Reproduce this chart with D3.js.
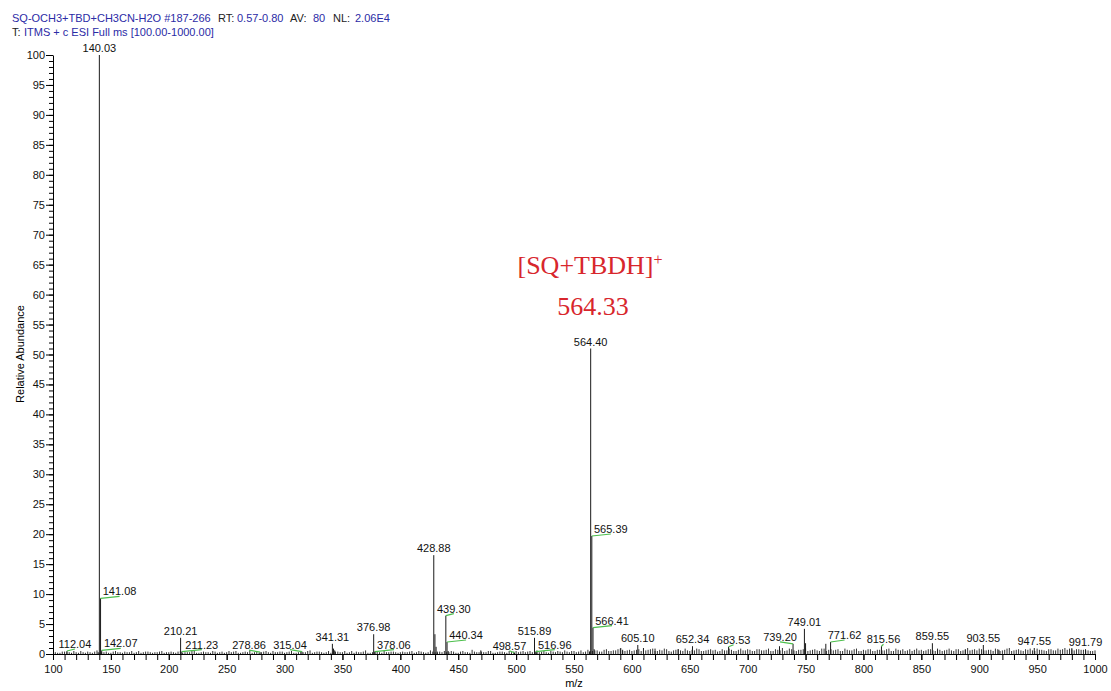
<!DOCTYPE html>
<html>
<head>
<meta charset="utf-8">
<script src="https://cdn.jsdelivr.net/npm/d3@7"></script>
<style>
  body { margin: 0; background: #fff; }
  text { font-family: Arial, "Liberation Sans", sans-serif; }
</style>
</head>
<body>
<div id="spectrum"></div>
<script>
// Labelled and secondary peaks: m/z and relative abundance (%)
const peakMz = [112.04, 139.0, 140.03, 141.08, 142.07, 210.21, 211.23, 278.86, 315.04, 341.31, 342.3, 343.3,
  376.98, 378.06, 428.88, 429.88, 430.88, 431.9, 439.30, 440.34, 441.3, 469.5, 498.57, 515.89, 516.96, 517.9,
  563.4, 564.40, 565.39, 566.41, 567.4, 590.4, 592.0, 605.10, 610.0, 620.0, 640.0, 652.34, 683.53, 727.5,
  739.20, 749.01, 750.0, 767.5, 771.62, 815.56, 859.55, 864.0, 888.0, 903.55, 917.0, 947.55, 980.0, 991.79];
const peakAb = [0.5, 0.3, 100, 9.3, 0.6, 2.7, 0.4, 0.3, 0.4, 1.7, 0.9, 0.6,
  3.3, 0.4, 16.5, 3.3, 1.2, 0.4, 6.4, 2.0, 0.5, 0.6, 0.2, 2.7, 0.4, 0.3,
  0.4, 51, 19.7, 4.4, 0.8, 1.0, 0.7, 1.5, 1.0, 0.9, 0.8, 1.3, 1.2, 1.3,
  1.7, 4.2, 1.8, 1.7, 2.0, 1.3, 1.8, 0.7, 0.8, 1.5, 0.7, 1.0, 0.8, 0.8];
const labelledMz = [112.04, 140.03, 141.08, 142.07, 210.21, 211.23, 278.86, 315.04, 341.31, 376.98, 378.06,
  428.88, 439.30, 440.34, 498.57, 515.89, 516.96, 564.40, 565.39, 566.41, 605.10, 652.34, 683.53,
  739.20, 749.01, 771.62, 815.56, 859.55, 903.55, 947.55, 991.79];

// Baseline noise, read every 4 m/z: set A starts at 102, set B at 104
const noiseStep = 4;
const noiseStartA = 102;
const noiseA = [
  0.3,0.2,0.4,0.3,0.5,0.2,0.3,0.4,0.2,0.6,0.3,0.4,0.2,0.5,0.3,0.4,0.3,0.2,0.5,0.3,0.4,0.2,0.3,0.5,0.3,
  0.4,0.2,0.5,0.3,0.3,0.6,0.2,0.4,0.3,0.5,0.2,0.4,0.3,0.3,0.5,0.2,0.4,0.6,0.3,0.2,0.4,0.3,0.5,0.3,0.4,
  0.3,0.5,0.2,0.4,0.3,0.6,0.3,0.4,0.2,0.5,0.3,0.4,0.3,0.2,0.5,0.4,0.3,0.6,0.2,0.4,0.3,0.5,0.3,0.4,0.2,
  0.4,0.3,0.5,0.3,0.4,0.2,0.6,0.3,0.4,0.5,0.3,0.4,0.2,0.5,0.3,0.7,0.3,0.4,0.3,0.5,0.2,0.4,0.3,0.5,0.4,
  0.3,0.5,0.4,0.3,0.6,0.4,0.3,0.5,0.3,0.4,0.6,0.3,0.5,0.4,0.3,0.7,0.5,0.6,0.4,0.8,0.5,0.6,0.9,0.5,0.7,
  0.6,0.8,0.5,0.7,0.9,0.5,0.6,0.8,0.4,0.7,0.6,0.9,0.5,0.6,0.8,0.5,0.7,0.6,0.4,0.8,0.6,0.7,0.5,0.9,0.6,
  0.7,0.5,0.8,0.6,0.9,0.5,0.7,1.0,0.6,0.8,0.5,0.7,0.9,0.6,0.8,0.5,0.9,0.7,0.6,0.8,0.5,0.7,0.6,0.9,0.5,
  0.6,0.8,0.5,0.7,0.6,0.9,0.5,0.7,0.8,0.6,0.5,0.9,0.7,0.6,0.8,0.5,0.7,0.6,0.9,0.5,0.8,0.6,1.0,0.7,0.6,
  0.8,0.6,0.7,0.9,0.5,0.7,1.0,0.6,0.8,0.5,0.7,0.6,0.9,0.7,0.5,0.8,0.6,0.7,1.0,0.9,0.6,0.8,0.7,0.6,0.5];
const noiseStartB = 104;
const noiseB = [
  0.2,0.4,0.3,0.2,0.3,0.5,0.2,0.3,0.4,0.2,0.3,0.2,0.4,0.3,0.2,0.3,0.5,0.3,0.2,0.4,0.3,0.3,0.4,0.2,0.3,
  0.3,0.4,0.2,0.3,0.5,0.2,0.3,0.3,0.2,0.4,0.3,0.2,0.5,0.4,0.2,0.3,0.3,0.2,0.4,0.3,0.5,0.2,0.3,0.4,0.2,
  0.4,0.2,0.3,0.3,0.5,0.2,0.4,0.3,0.3,0.2,0.4,0.3,0.5,0.3,0.2,0.3,0.4,0.2,0.3,0.5,0.2,0.3,0.4,0.3,0.3,
  0.3,0.4,0.2,0.5,0.3,0.3,0.4,0.2,0.3,0.3,0.5,0.2,0.4,0.3,0.2,0.4,0.3,0.3,0.5,0.2,0.3,0.4,0.2,0.3,0.5,
  0.4,0.3,0.5,0.4,0.3,0.5,0.2,0.4,0.5,0.3,0.4,0.5,0.3,0.6,0.4,0.5,0.6,0.4,0.7,0.5,0.6,0.8,0.5,0.6,0.5,
  0.7,0.5,0.6,0.8,0.5,0.7,0.9,0.5,0.6,0.8,0.5,0.6,0.7,0.9,0.5,0.6,0.8,0.7,0.5,0.6,0.9,0.5,0.7,0.6,0.8,
  0.5,0.8,0.6,0.7,0.5,0.8,0.6,0.5,0.9,0.6,0.7,0.8,0.5,0.7,0.6,0.9,0.5,0.8,0.7,0.5,0.9,0.6,0.8,0.5,0.7,
  0.8,0.5,0.7,0.6,0.8,0.5,0.9,0.6,0.5,0.8,0.7,0.6,0.5,0.8,0.6,0.9,0.5,0.7,0.6,0.8,0.5,0.7,0.6,0.8,0.9,
  0.6,0.7,0.5,0.8,0.6,0.9,0.5,0.7,0.6,0.8,0.9,0.5,0.7,0.6,0.8,0.6,0.9,0.8,0.7,1.0,0.8,0.7,0.6,0.5,0.6];

// Axis ticks
const xMajorTicks = [100, 150, 200, 250, 300, 350, 400, 450, 500, 550, 600, 650, 700, 750, 800, 850, 900, 950, 1000];
const yMajorTicks = [0, 5, 10, 15, 20, 25, 30, 35, 40, 45, 50, 55, 60, 65, 70, 75, 80, 85, 90, 95, 100];

// Label nudges (px) for labels pushed sideways; a green leader joins them to the peak
const labelShift = { 112.04: 8, 141.08: 19, 142.07: 19, 211.23: 20, 278.86: -11, 315.04: -12, 378.06: 19,
  439.30: 8, 440.34: 19, 498.57: -5, 516.96: 19, 565.39: 19, 566.41: 19, 683.53: 5, 739.20: -13,
  771.62: 14, 815.56: 2 };

const W = 1111, H = 691;
const svg = d3.select("#spectrum").append("svg")
  .attr("width", W)
  .attr("height", H);

const x = d3.scaleLinear().domain([100, 1000]).range([53, 1095]);
const y = d3.scaleLinear().domain([0, 100]).range([654, 55]);

// Header lines
const header = [
  { t: "SQ-OCH3+TBD+CH3CN-H2O #187-266", x: 12, y: 22, c: "#2b2ba6" },
  { t: "RT:", x: 218, y: 22, c: "#222" },
  { t: "0.57-0.80", x: 237, y: 22, c: "#2b2ba6" },
  { t: "AV:", x: 290, y: 22, c: "#222" },
  { t: "80", x: 313, y: 22, c: "#2b2ba6" },
  { t: "NL:", x: 333, y: 22, c: "#222" },
  { t: "2.06E4", x: 355, y: 22, c: "#2b2ba6" },
  { t: "T:", x: 12, y: 36, c: "#222" },
  { t: "ITMS + c ESI Full ms [100.00-1000.00]", x: 24, y: 36, c: "#2b2ba6" }
];
svg.selectAll(".hdr").data(header).enter().append("text")
  .attr("class", "hdr")
  .attr("x", d => d.x).attr("y", d => d.y)
  .attr("fill", d => d.c)
  .style("font-size", "11px")
  .text(d => d.t);

// Noise sticks
const noise = noiseA.map((v, i) => ({ mz: noiseStartA + i * noiseStep, ab: v }))
  .concat(noiseB.map((v, i) => ({ mz: noiseStartB + i * noiseStep, ab: v })))
  .filter(d => d.mz <= 1000);
svg.append("g").selectAll("line").data(noise).enter().append("line")
  .attr("x1", d => x(d.mz)).attr("x2", d => x(d.mz))
  .attr("y1", y(0)).attr("y2", d => y(d.ab))
  .attr("stroke", "#333").attr("stroke-width", 1);

// Peaks
const peaks = peakMz.map((m, i) => ({ mz: m, ab: peakAb[i] }));
svg.append("g").selectAll("line").data(peaks).enter().append("line")
  .attr("x1", d => x(d.mz)).attr("x2", d => x(d.mz))
  .attr("y1", y(0)).attr("y2", d => y(d.ab))
  .attr("stroke", "#1a1a1a").attr("stroke-width", 1);

// Peak labels with green leaders
const labels = peaks.filter(d => labelledMz.includes(d.mz));
const lg = svg.append("g");
labels.forEach(d => {
  const dx = labelShift[d.mz] || 0;
  const px = x(d.mz), py = y(d.ab);
  if (dx !== 0) {
    lg.append("line")
      .attr("x1", px).attr("y1", py)
      .attr("x2", px + dx).attr("y2", py - 2)
      .attr("stroke", "#4cbf4c").attr("stroke-width", 1.2);
  }
  lg.append("text")
    .attr("x", px + dx).attr("y", py - 3)
    .attr("text-anchor", "middle")
    .attr("fill", "#111")
    .style("font-size", "11px")
    .text(d.mz.toFixed(2));
});

// X axis (major + minor)
svg.append("g")
  .attr("transform", `translate(0,${y(0)})`)
  .call(d3.axisBottom(x).tickValues(d3.range(100, 1001, 10)).tickSize(6).tickFormat(""))
  .call(g => g.select(".domain").remove());
const xAxis = svg.append("g")
  .attr("transform", `translate(0,${y(0)})`)
  .call(d3.axisBottom(x).tickValues(xMajorTicks).tickSize(6).tickPadding(5).tickSizeOuter(0).tickFormat(d3.format("d")));
xAxis.selectAll("text").style("font-size", "11px").attr("fill", "#111");

// Y axis (major + minor)
svg.append("g")
  .attr("transform", `translate(${x(100)},0)`)
  .call(d3.axisLeft(y).tickValues(d3.range(0, 101, 1)).tickSize(4).tickFormat(""))
  .call(g => g.select(".domain").remove());
const yAxis = svg.append("g")
  .attr("transform", `translate(${x(100)},0)`)
  .call(d3.axisLeft(y).tickValues(yMajorTicks).tickSize(7).tickPadding(1).tickSizeOuter(0));
yAxis.selectAll("text").style("font-size", "11px").attr("fill", "#111");

// Axis titles
svg.append("text")
  .attr("x", 574).attr("y", 687)
  .attr("text-anchor", "middle")
  .style("font-size", "11px")
  .text("m/z");

svg.append("text")
  .attr("transform", "translate(24,354) rotate(-90)")
  .attr("text-anchor", "middle")
  .style("font-size", "11px")
  .text("Relative Abundance");

// Annotation
const ann = svg.append("text")
  .attr("x", 590).attr("y", 274)
  .attr("text-anchor", "middle")
  .attr("fill", "#d8262c")
  .style("font-family", "'Liberation Serif', 'Times New Roman', serif")
  .style("font-size", "26px");
ann.append("tspan").text("[SQ+TBDH]");
ann.append("tspan").attr("dy", -9).style("font-size", "16px").text("+");

svg.append("text")
  .attr("x", 593).attr("y", 315)
  .attr("text-anchor", "middle")
  .attr("fill", "#d8262c")
  .style("font-family", "'Liberation Serif', 'Times New Roman', serif")
  .style("font-size", "26px")
  .text("564.33");
</script>
</body>
</html>
